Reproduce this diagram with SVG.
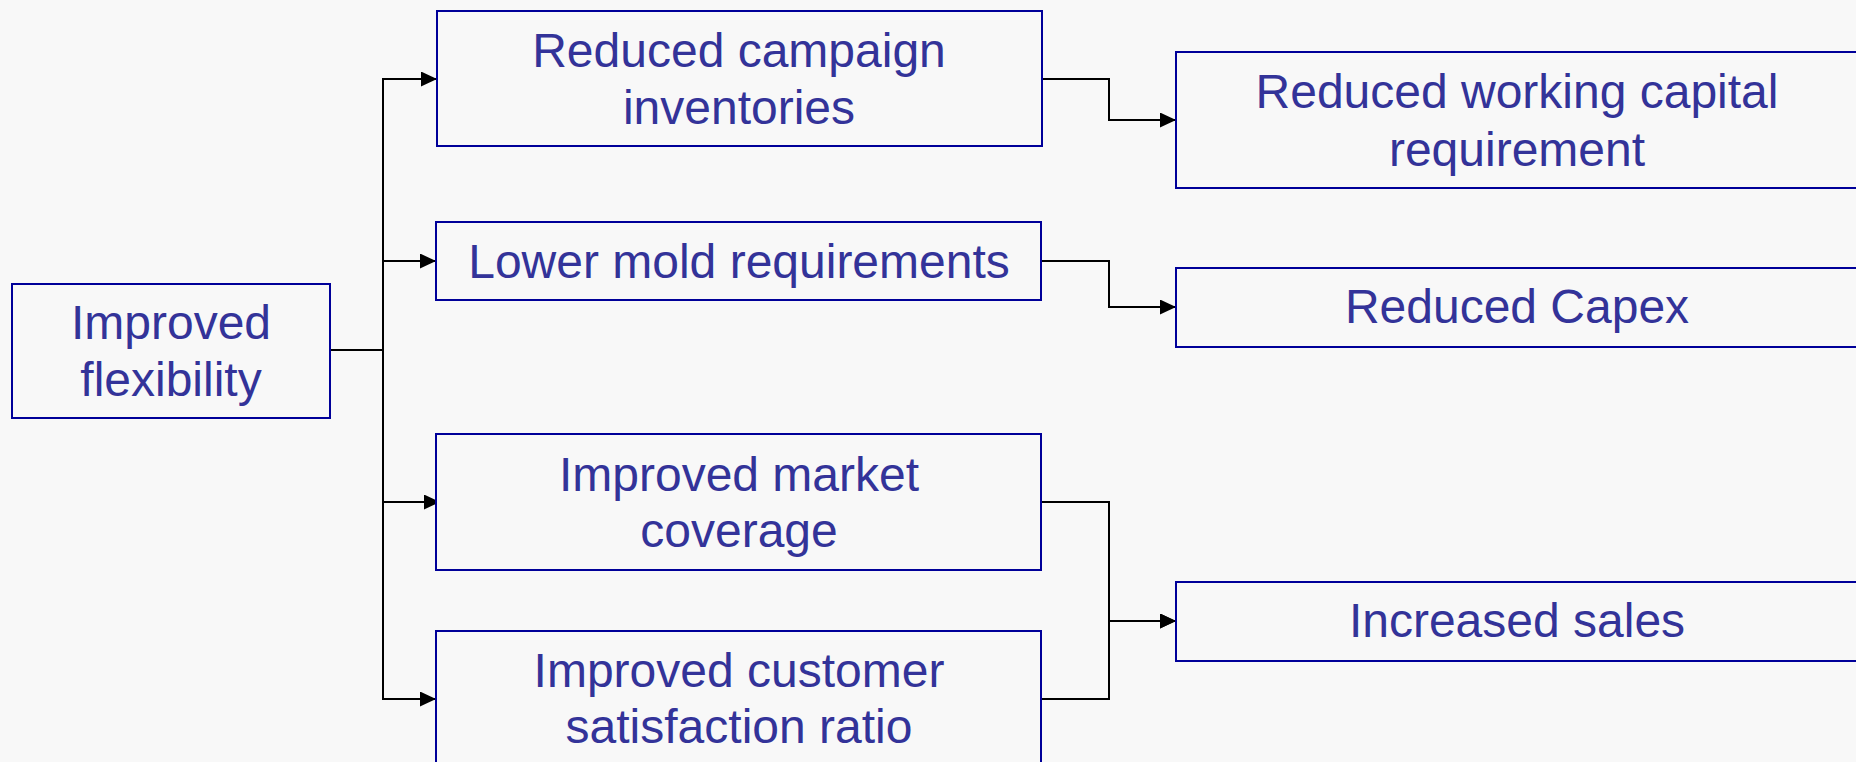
<svg xmlns="http://www.w3.org/2000/svg" width="1856" height="762" viewBox="0 0 1856 762">
<style>
.box{fill:#F8F8F8;stroke:#000099;stroke-width:2}
.lbl{font-family:"Liberation Sans",Arial,sans-serif;font-size:48px;fill:#333399;text-anchor:middle}
.con{fill:none;stroke:#000;stroke-width:2}
</style>
<defs>
<marker id="arr" markerUnits="userSpaceOnUse" markerWidth="16" markerHeight="15" refX="16" refY="7.5" orient="auto">
<path d="M0,0 L16,7.5 L0,15 z" fill="#000"/>
</marker>
</defs>
<rect x="0" y="0" width="1856" height="762" fill="#F8F8F8"/>
<g id="connectors">
<path class="con" d="M330,350 H383 V79 H437" marker-end="url(#arr)"/>
<path class="con" d="M330,350 H383 V261 H436" marker-end="url(#arr)"/>
<path class="con" d="M330,350 H383 V502 H440" marker-end="url(#arr)"/>
<path class="con" d="M330,350 H383 V699 H436" marker-end="url(#arr)"/>
<path class="con" d="M1042,79 H1109 V120 H1176" marker-end="url(#arr)"/>
<path class="con" d="M1041,261 H1109 V307 H1176" marker-end="url(#arr)"/>
<path class="con" d="M1041,502 H1109 V621 H1176" marker-end="url(#arr)"/>
<path class="con" d="M1041,699 H1109 V621 H1176" marker-end="url(#arr)"/>
</g>
<g id="improved-flexibility">
<rect class="box" x="12" y="284" width="318" height="134"/>
<text class="lbl" x="171" y="339">Improved</text>
<text class="lbl" x="171" y="396">flexibility</text>
</g>
<g id="reduced-campaign-inventories">
<rect class="box" x="437" y="11" width="605" height="135"/>
<text class="lbl" x="739" y="67">Reduced campaign</text>
<text class="lbl" x="739" y="124">inventories</text>
</g>
<g id="lower-mold-requirements">
<rect class="box" x="436" y="222" width="605" height="78"/>
<text class="lbl" x="739" y="278">Lower mold requirements</text>
</g>
<g id="improved-market-coverage">
<rect class="box" x="436" y="434" width="605" height="136"/>
<text class="lbl" x="739" y="491">Improved market</text>
<text class="lbl" x="739" y="547">coverage</text>
</g>
<g id="improved-customer-satisfaction">
<rect class="box" x="436" y="631" width="605" height="136"/>
<text class="lbl" x="739" y="687">Improved customer</text>
<text class="lbl" x="739" y="743">satisfaction ratio</text>
</g>
<g id="reduced-working-capital">
<rect class="box" x="1176" y="52" width="682" height="136"/>
<text class="lbl" x="1517" y="108">Reduced working capital</text>
<text class="lbl" x="1517" y="166">requirement</text>
</g>
<g id="reduced-capex">
<rect class="box" x="1176" y="268" width="682" height="79"/>
<text class="lbl" x="1517" y="323">Reduced Capex</text>
</g>
<g id="increased-sales">
<rect class="box" x="1176" y="582" width="682" height="79"/>
<text class="lbl" x="1517" y="637">Increased sales</text>
</g>
</svg>
